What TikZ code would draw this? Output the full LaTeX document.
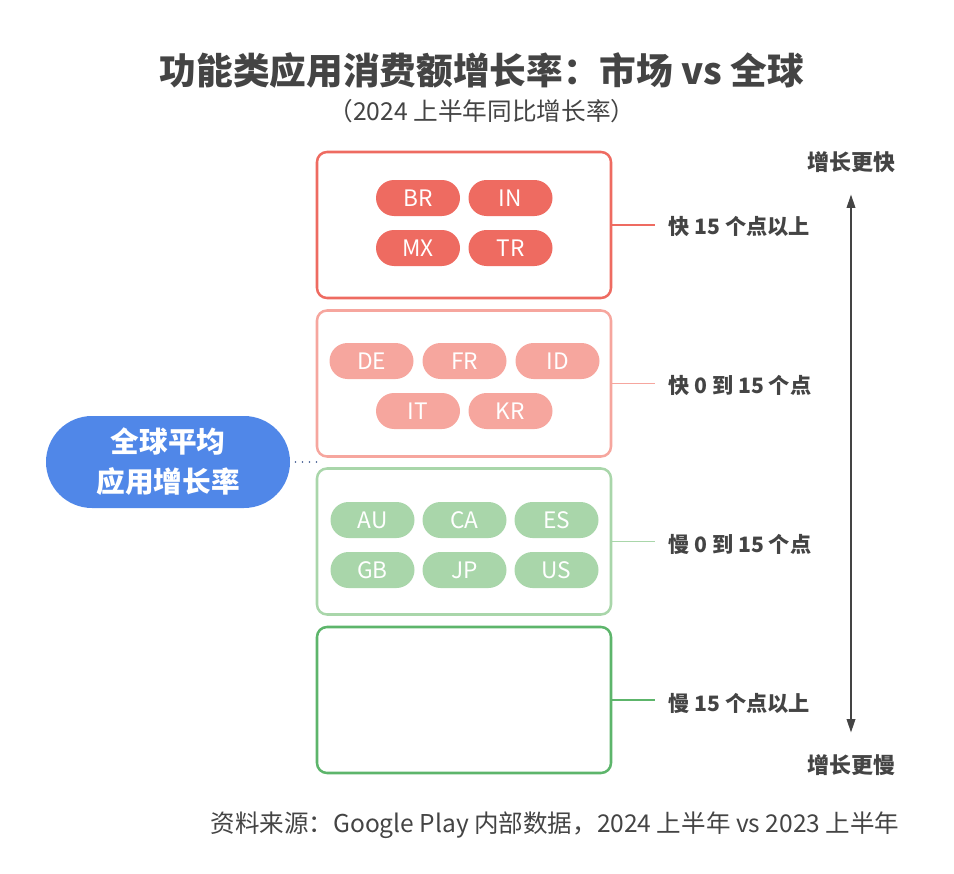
\documentclass[tikz,border=0pt]{standalone}
\usepackage{fontspec}
\setmainfont{Noto Sans CJK SC}
\usetikzlibrary{arrows.meta}
\definecolor{txt}{HTML}{444444}
\definecolor{cA}{HTML}{EE6B61}
\definecolor{cB}{HTML}{F6A69E}
\definecolor{cC}{HTML}{A9D6AA}
\definecolor{cD}{HTML}{5DB56B}
\definecolor{blu}{HTML}{5087E8}
\definecolor{dots}{HTML}{3B558C}
\tikzset{
  box/.style={draw=#1, line width=1.9pt, rounded corners=7.5pt, minimum width=220.5pt, minimum height=109.5pt, outer sep=0pt, inner sep=0pt},
  pill/.style={fill=#1, draw=none, rounded corners=13.5pt, minimum width=63pt, minimum height=27pt, inner sep=0pt, text=white, font=\fontsize{17}{18}\selectfont},
  lab/.style={anchor=west, inner xsep=9.75pt, text=txt, font=\fontsize{15.9}{18}\selectfont\bfseries},
  conn/.style={draw=#1, line width=1.2pt},
  side/.style={text=txt, font=\fontsize{16.5}{18}\selectfont\bfseries}
}
\begin{document}
\begin{tikzpicture}[x=0.75pt,y=-0.75pt]
\useasboundingbox (0,0) rectangle (954,874);
% title
\node[text=txt, font=\fontsize{27.5}{32}\selectfont\bfseries] (title) at (482,70) {功能类应用消费额增长率：市场 vs 全球};
\node[text=txt, font=\fontsize{18.5}{22}\selectfont] (sub) at (482,111) {（2024 上半年同比增长率）};
% boxes
\node[box=cA] (b1) at (464,225) {};
\node[box=cB] (b2) at (464,383.5) {};
\node[box=cC] (b3) at (464,541.5) {};
\node[box=cD] (b4) at (464,700) {};
% pills box 1
\node[pill=cA] (br) at (418,198) {BR};
\node[pill=cA] (in) at (510.5,198) {IN};
\node[pill=cA] (mx) at (418,248) {MX};
\node[pill=cA] (tr) at (510.5,248) {TR};
% pills box 2
\node[pill=cB] (de) at (371.5,361) {DE};
\node[pill=cB] (fr) at (464.5,361) {FR};
\node[pill=cB] (id) at (557.5,361) {ID};
\node[pill=cB] (it) at (418,411) {IT};
\node[pill=cB] (kr) at (510.5,411) {KR};
% pills box 3
\node[pill=cC] (au) at (372.5,520) {AU};
\node[pill=cC] (ca) at (464.5,520) {CA};
\node[pill=cC] (es) at (556.5,520) {ES};
\node[pill=cC] (gb) at (372.5,570) {GB};
\node[pill=cC] (jp) at (464.5,570) {JP};
\node[pill=cC] (us) at (556.5,570) {US};
% labels
\node[lab] (l1) at (655,226) {快 15 个点以上};
\node[lab] (l2) at (655,385) {快 0 到 15 个点};
\node[lab] (l3) at (655,544) {慢 0 到 15 个点};
\node[lab] (l4) at (655,703) {慢 15 个点以上};
\draw[conn=cA] (b1.east) -- (b1.east -| l1.west);
\draw[conn=cB] (b2.east) -- (b2.east -| l2.west);
\draw[conn=cC] (b3.east) -- (b3.east -| l3.west);
\draw[conn=cD] (b4.east) -- (b4.east -| l4.west);
% arrow
\node[side] (fast) at (851,162) {增长更快};
\node[side] (slow) at (851,765) {增长更慢};
\draw[txt, line width=1.1pt, {Triangle[length=10pt,width=6.5pt]}-{Triangle[length=10pt,width=6.5pt]}, shorten <=13pt, shorten >=13pt] (fast.south) -- (slow.north);
% global average
\node[fill=blu, rounded corners=34.5pt, minimum width=183pt, minimum height=69pt, inner sep=0pt, text=white, align=center, font=\fontsize{21.5}{30}\selectfont\bfseries] (avg) at (168,462) {全球平均\\应用增长率};
\coordinate (gap) at (317,462);
\draw[dots, line width=1.3pt, dash pattern=on 0pt off 5.2pt, line cap=round, shorten <=4pt] (avg.east) -- (gap);
% footer
\node[text=txt, font=\fontsize{18.4}{22}\selectfont] (foot) at (555,825) {资料来源：Google Play 内部数据，2024 上半年 vs 2023 上半年};
\end{tikzpicture}
\end{document}
